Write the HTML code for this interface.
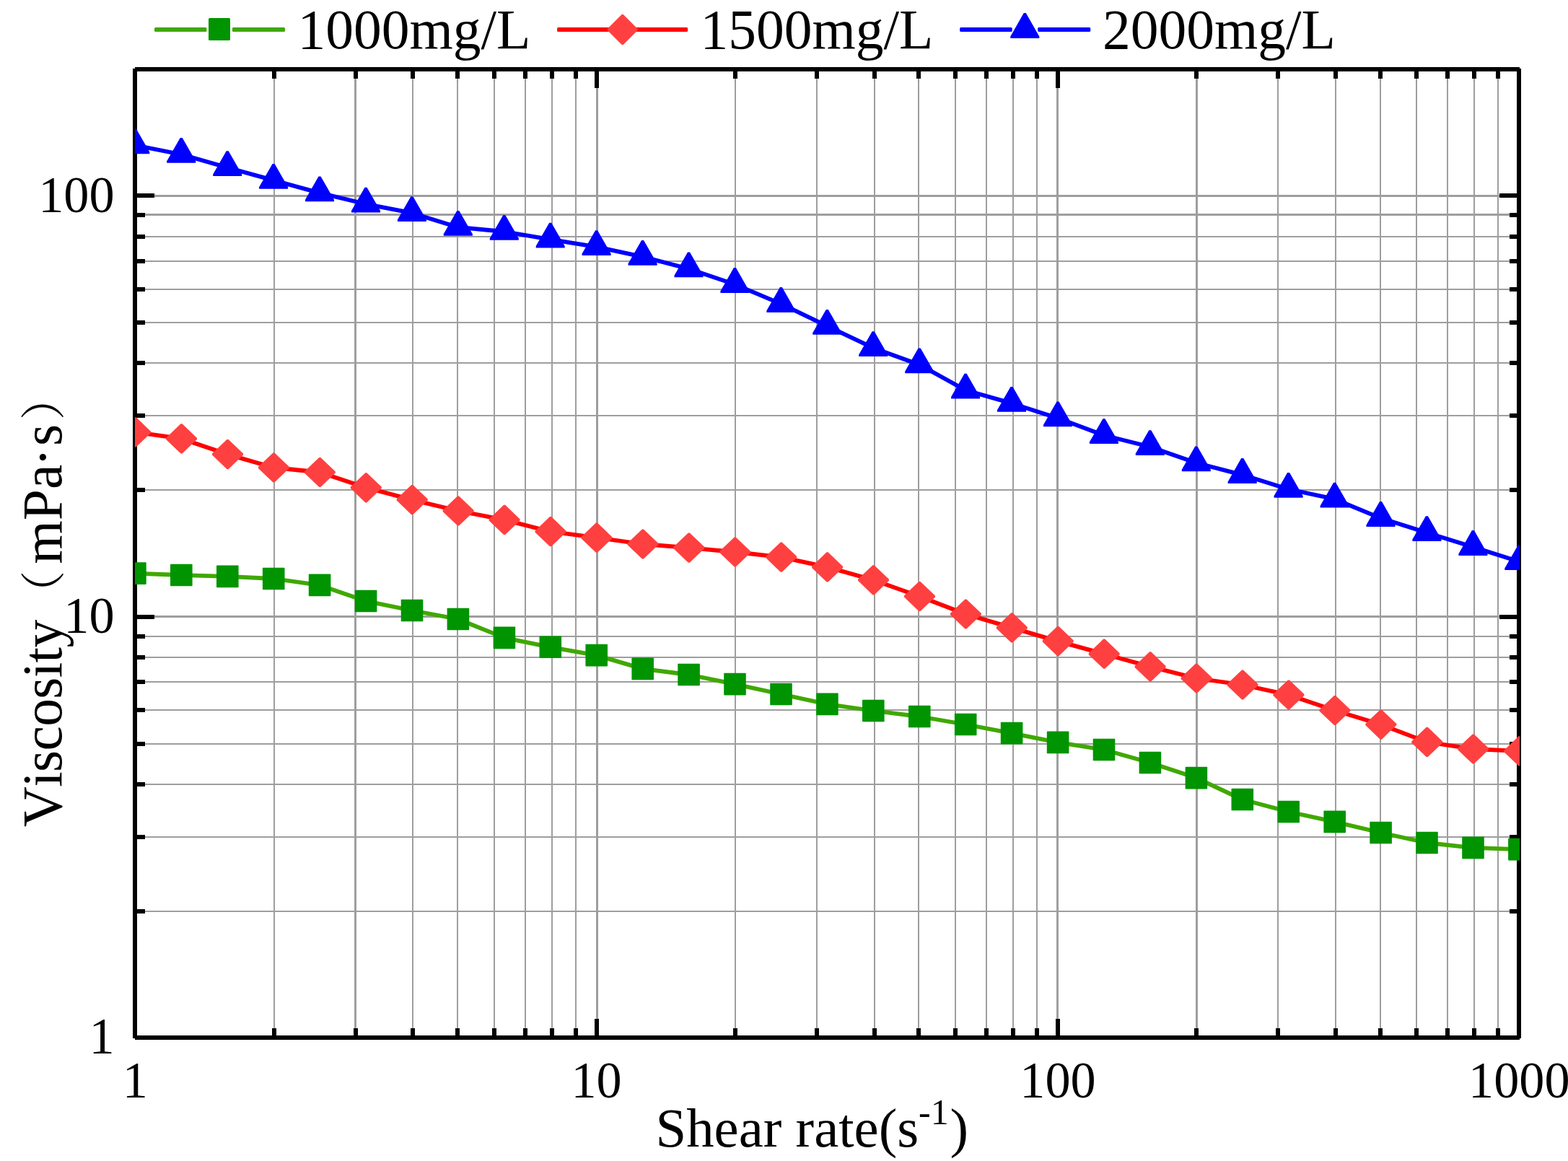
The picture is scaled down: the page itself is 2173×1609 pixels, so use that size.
<!DOCTYPE html>
<html lang="en"><head><meta charset="utf-8"><title>Viscosity vs Shear rate</title>
<style>html,body{margin:0;padding:0;background:#fff;}body{width:2173px;height:1609px;overflow:hidden;}svg{display:block;}text{font-family:"Liberation Serif","Noto Serif CJK SC",serif;fill:#000;font-kerning:none;}</style>
</head><body>
<svg width="2173" height="1609" viewBox="0 0 2173 1609" role="img" aria-label="Viscosity versus shear rate for 1000, 1500 and 2000 mg/L">
<rect x="0" y="0" width="2173" height="1609" fill="#ffffff"/>
<defs><clipPath id="plotclip"><rect x="187" y="96" width="1919" height="1342"/></clipPath></defs>
<g shape-rendering="crispEdges" fill="#9e9e9e">
<rect x="379" y="96" width="2" height="1342"/>
<rect x="491" y="96" width="3" height="1342"/>
<rect x="571" y="96" width="2" height="1342"/>
<rect x="633" y="96" width="2" height="1342"/>
<rect x="684" y="96" width="2" height="1342"/>
<rect x="727" y="96" width="2" height="1342"/>
<rect x="764" y="96" width="2" height="1342"/>
<rect x="797" y="96" width="2" height="1342"/>
<rect x="826" y="96" width="3" height="1342"/>
<rect x="1018" y="96" width="2" height="1342"/>
<rect x="1131" y="96" width="2" height="1342"/>
<rect x="1211" y="96" width="2" height="1342"/>
<rect x="1272" y="96" width="2" height="1342"/>
<rect x="1323" y="96" width="2" height="1342"/>
<rect x="1366" y="96" width="2" height="1342"/>
<rect x="1403" y="96" width="2" height="1342"/>
<rect x="1436" y="96" width="2" height="1342"/>
<rect x="1464" y="96" width="3" height="1342"/>
<rect x="1657" y="96" width="3" height="1342"/>
<rect x="1770" y="96" width="2" height="1342"/>
<rect x="1850" y="96" width="2" height="1342"/>
<rect x="1912" y="96" width="2" height="1342"/>
<rect x="1962" y="96" width="2" height="1342"/>
<rect x="2005" y="96" width="2" height="1342"/>
<rect x="2042" y="96" width="2" height="1342"/>
<rect x="2075" y="96" width="2" height="1342"/>
<rect x="187" y="1262" width="1918" height="2"/>
<rect x="187" y="1159" width="1918" height="2"/>
<rect x="187" y="1086" width="1918" height="2"/>
<rect x="187" y="1030" width="1918" height="2"/>
<rect x="187" y="983" width="1918" height="2"/>
<rect x="187" y="944" width="1918" height="2"/>
<rect x="187" y="910" width="1918" height="2"/>
<rect x="187" y="881" width="1918" height="2"/>
<rect x="187" y="853" width="1918" height="3"/>
<rect x="187" y="678" width="1918" height="2"/>
<rect x="187" y="575" width="1918" height="2"/>
<rect x="187" y="502" width="1918" height="2"/>
<rect x="187" y="446" width="1918" height="2"/>
<rect x="187" y="400" width="1918" height="2"/>
<rect x="187" y="361" width="1918" height="2"/>
<rect x="187" y="327" width="1918" height="2"/>
<rect x="187" y="296" width="1918" height="3"/>
<rect x="187" y="270" width="1918" height="3"/>
</g>
<g shape-rendering="crispEdges" fill="#000">
<rect x="184" y="95" width="6" height="1344"/>
<rect x="2102" y="95" width="6" height="1344"/>
<rect x="187" y="93" width="1919" height="6"/>
<rect x="187" y="1435" width="1919" height="6"/>
<rect x="377" y="93" width="6" height="16"/>
<rect x="377" y="1425" width="6" height="16"/>
<rect x="490" y="93" width="6" height="16"/>
<rect x="490" y="1425" width="6" height="16"/>
<rect x="569" y="93" width="6" height="16"/>
<rect x="569" y="1425" width="6" height="16"/>
<rect x="631" y="93" width="6" height="16"/>
<rect x="631" y="1425" width="6" height="16"/>
<rect x="682" y="93" width="6" height="16"/>
<rect x="682" y="1425" width="6" height="16"/>
<rect x="725" y="93" width="6" height="16"/>
<rect x="725" y="1425" width="6" height="16"/>
<rect x="762" y="93" width="6" height="16"/>
<rect x="762" y="1425" width="6" height="16"/>
<rect x="795" y="93" width="6" height="16"/>
<rect x="795" y="1425" width="6" height="16"/>
<rect x="824" y="93" width="6" height="29"/>
<rect x="824" y="1412" width="6" height="29"/>
<rect x="1016" y="93" width="6" height="16"/>
<rect x="1016" y="1425" width="6" height="16"/>
<rect x="1129" y="93" width="6" height="16"/>
<rect x="1129" y="1425" width="6" height="16"/>
<rect x="1209" y="93" width="6" height="16"/>
<rect x="1209" y="1425" width="6" height="16"/>
<rect x="1270" y="93" width="6" height="16"/>
<rect x="1270" y="1425" width="6" height="16"/>
<rect x="1321" y="93" width="6" height="16"/>
<rect x="1321" y="1425" width="6" height="16"/>
<rect x="1364" y="93" width="6" height="16"/>
<rect x="1364" y="1425" width="6" height="16"/>
<rect x="1401" y="93" width="6" height="16"/>
<rect x="1401" y="1425" width="6" height="16"/>
<rect x="1434" y="93" width="6" height="16"/>
<rect x="1434" y="1425" width="6" height="16"/>
<rect x="1463" y="93" width="6" height="29"/>
<rect x="1463" y="1412" width="6" height="29"/>
<rect x="1655" y="93" width="6" height="16"/>
<rect x="1655" y="1425" width="6" height="16"/>
<rect x="1768" y="93" width="6" height="16"/>
<rect x="1768" y="1425" width="6" height="16"/>
<rect x="1848" y="93" width="6" height="16"/>
<rect x="1848" y="1425" width="6" height="16"/>
<rect x="1910" y="93" width="6" height="16"/>
<rect x="1910" y="1425" width="6" height="16"/>
<rect x="1960" y="93" width="6" height="16"/>
<rect x="1960" y="1425" width="6" height="16"/>
<rect x="2003" y="93" width="6" height="16"/>
<rect x="2003" y="1425" width="6" height="16"/>
<rect x="2040" y="93" width="6" height="16"/>
<rect x="2040" y="1425" width="6" height="16"/>
<rect x="2073" y="93" width="6" height="16"/>
<rect x="2073" y="1425" width="6" height="16"/>
<rect x="184" y="1260" width="17" height="6"/>
<rect x="2092" y="1260" width="16" height="6"/>
<rect x="184" y="1157" width="17" height="6"/>
<rect x="2092" y="1157" width="16" height="6"/>
<rect x="184" y="1084" width="17" height="6"/>
<rect x="2092" y="1084" width="16" height="6"/>
<rect x="184" y="1028" width="17" height="6"/>
<rect x="2092" y="1028" width="16" height="6"/>
<rect x="184" y="981" width="17" height="6"/>
<rect x="2092" y="981" width="16" height="6"/>
<rect x="184" y="942" width="17" height="6"/>
<rect x="2092" y="942" width="16" height="6"/>
<rect x="184" y="908" width="17" height="6"/>
<rect x="2092" y="908" width="16" height="6"/>
<rect x="184" y="879" width="17" height="6"/>
<rect x="2092" y="879" width="16" height="6"/>
<rect x="184" y="852" width="30" height="6"/>
<rect x="2078" y="852" width="30" height="6"/>
<rect x="184" y="676" width="17" height="6"/>
<rect x="2092" y="676" width="16" height="6"/>
<rect x="184" y="573" width="17" height="6"/>
<rect x="2092" y="573" width="16" height="6"/>
<rect x="184" y="500" width="17" height="6"/>
<rect x="2092" y="500" width="16" height="6"/>
<rect x="184" y="444" width="17" height="6"/>
<rect x="2092" y="444" width="16" height="6"/>
<rect x="184" y="398" width="17" height="6"/>
<rect x="2092" y="398" width="16" height="6"/>
<rect x="184" y="359" width="17" height="6"/>
<rect x="2092" y="359" width="16" height="6"/>
<rect x="184" y="325" width="17" height="6"/>
<rect x="2092" y="325" width="16" height="6"/>
<rect x="184" y="295" width="17" height="6"/>
<rect x="2092" y="295" width="16" height="6"/>
<rect x="184" y="268" width="30" height="6"/>
<rect x="2078" y="268" width="30" height="6"/>
</g>
<g clip-path="url(#plotclip)">
<path d="M187.3 794.6 L251.2 797.0 L315.2 798.9 L379.1 802.0 L443.0 810.9 L507.0 833.0 L570.9 846.0 L634.8 858.0 L698.8 883.9 L762.7 896.8 L826.6 908.1 L890.6 926.9 L954.5 935.0 L1018.4 948.1 L1082.4 962.0 L1146.3 975.9 L1210.2 985.0 L1274.2 993.0 L1338.1 1004.0 L1402.0 1016.1 L1466.0 1028.9 L1529.9 1039.0 L1593.8 1057.0 L1657.8 1078.1 L1721.7 1108.0 L1785.6 1125.0 L1849.6 1138.9 L1913.5 1154.0 L1977.4 1168.0 L2041.4 1174.9 L2105.3 1177.1" fill="none" stroke="#40a800" stroke-width="5.8" stroke-linejoin="round"/>
<g fill="#009400">
<rect x="172.1" y="779.3" width="30.6" height="30.6" rx="0.8"/>
<rect x="236.0" y="781.7" width="30.6" height="30.6" rx="0.8"/>
<rect x="300.0" y="783.6" width="30.6" height="30.6" rx="0.8"/>
<rect x="363.9" y="786.7" width="30.6" height="30.6" rx="0.8"/>
<rect x="427.8" y="795.6" width="30.6" height="30.6" rx="0.8"/>
<rect x="491.8" y="817.7" width="30.6" height="30.6" rx="0.8"/>
<rect x="555.7" y="830.7" width="30.6" height="30.6" rx="0.8"/>
<rect x="619.6" y="842.7" width="30.6" height="30.6" rx="0.8"/>
<rect x="683.6" y="868.6" width="30.6" height="30.6" rx="0.8"/>
<rect x="747.5" y="881.5" width="30.6" height="30.6" rx="0.8"/>
<rect x="811.4" y="892.8" width="30.6" height="30.6" rx="0.8"/>
<rect x="875.4" y="911.6" width="30.6" height="30.6" rx="0.8"/>
<rect x="939.3" y="919.7" width="30.6" height="30.6" rx="0.8"/>
<rect x="1003.2" y="932.8" width="30.6" height="30.6" rx="0.8"/>
<rect x="1067.2" y="946.7" width="30.6" height="30.6" rx="0.8"/>
<rect x="1131.1" y="960.6" width="30.6" height="30.6" rx="0.8"/>
<rect x="1195.0" y="969.7" width="30.6" height="30.6" rx="0.8"/>
<rect x="1259.0" y="977.7" width="30.6" height="30.6" rx="0.8"/>
<rect x="1322.9" y="988.7" width="30.6" height="30.6" rx="0.8"/>
<rect x="1386.8" y="1000.8" width="30.6" height="30.6" rx="0.8"/>
<rect x="1450.8" y="1013.6" width="30.6" height="30.6" rx="0.8"/>
<rect x="1514.7" y="1023.7" width="30.6" height="30.6" rx="0.8"/>
<rect x="1578.6" y="1041.7" width="30.6" height="30.6" rx="0.8"/>
<rect x="1642.6" y="1062.8" width="30.6" height="30.6" rx="0.8"/>
<rect x="1706.5" y="1092.7" width="30.6" height="30.6" rx="0.8"/>
<rect x="1770.4" y="1109.7" width="30.6" height="30.6" rx="0.8"/>
<rect x="1834.4" y="1123.6" width="30.6" height="30.6" rx="0.8"/>
<rect x="1898.3" y="1138.7" width="30.6" height="30.6" rx="0.8"/>
<rect x="1962.2" y="1152.7" width="30.6" height="30.6" rx="0.8"/>
<rect x="2026.2" y="1159.6" width="30.6" height="30.6" rx="0.8"/>
<rect x="2090.1" y="1161.8" width="30.6" height="30.6" rx="0.8"/>
</g>
<path d="M187.3 598.9 L251.2 607.9 L315.2 629.6 L379.1 648.0 L443.0 654.5 L507.0 675.8 L570.9 692.6 L634.8 708.0 L698.8 720.4 L762.7 736.7 L826.6 745.2 L890.6 754.0 L954.5 759.1 L1018.4 765.0 L1082.4 772.1 L1146.3 785.9 L1210.2 803.8 L1274.2 826.5 L1338.1 851.0 L1402.0 869.9 L1466.0 888.6 L1529.9 906.2 L1593.8 923.9 L1657.8 940.0 L1721.7 949.0 L1785.6 963.0 L1849.6 984.5 L1913.5 1004.1 L1977.4 1028.4 L2041.4 1038.0 L2105.3 1040.9" fill="none" stroke="#ff0000" stroke-width="5.8" stroke-linejoin="round"/>
<g fill="#ff4040">
<path d="M186.6 578.3 h2 l20.5 19.6 v2 l-20.5 19.6 h-2 l-20.5 -19.6 v-2 z"/>
<path d="M250.5 587.3 h2 l20.5 19.6 v2 l-20.5 19.6 h-2 l-20.5 -19.6 v-2 z"/>
<path d="M314.5 609.0 h2 l20.5 19.6 v2 l-20.5 19.6 h-2 l-20.5 -19.6 v-2 z"/>
<path d="M378.4 627.4 h2 l20.5 19.6 v2 l-20.5 19.6 h-2 l-20.5 -19.6 v-2 z"/>
<path d="M442.3 633.9 h2 l20.5 19.6 v2 l-20.5 19.6 h-2 l-20.5 -19.6 v-2 z"/>
<path d="M506.3 655.2 h2 l20.5 19.6 v2 l-20.5 19.6 h-2 l-20.5 -19.6 v-2 z"/>
<path d="M570.2 672.0 h2 l20.5 19.6 v2 l-20.5 19.6 h-2 l-20.5 -19.6 v-2 z"/>
<path d="M634.1 687.4 h2 l20.5 19.6 v2 l-20.5 19.6 h-2 l-20.5 -19.6 v-2 z"/>
<path d="M698.1 699.8 h2 l20.5 19.6 v2 l-20.5 19.6 h-2 l-20.5 -19.6 v-2 z"/>
<path d="M762.0 716.1 h2 l20.5 19.6 v2 l-20.5 19.6 h-2 l-20.5 -19.6 v-2 z"/>
<path d="M825.9 724.6 h2 l20.5 19.6 v2 l-20.5 19.6 h-2 l-20.5 -19.6 v-2 z"/>
<path d="M889.9 733.4 h2 l20.5 19.6 v2 l-20.5 19.6 h-2 l-20.5 -19.6 v-2 z"/>
<path d="M953.8 738.5 h2 l20.5 19.6 v2 l-20.5 19.6 h-2 l-20.5 -19.6 v-2 z"/>
<path d="M1017.7 744.4 h2 l20.5 19.6 v2 l-20.5 19.6 h-2 l-20.5 -19.6 v-2 z"/>
<path d="M1081.7 751.5 h2 l20.5 19.6 v2 l-20.5 19.6 h-2 l-20.5 -19.6 v-2 z"/>
<path d="M1145.6 765.3 h2 l20.5 19.6 v2 l-20.5 19.6 h-2 l-20.5 -19.6 v-2 z"/>
<path d="M1209.5 783.2 h2 l20.5 19.6 v2 l-20.5 19.6 h-2 l-20.5 -19.6 v-2 z"/>
<path d="M1273.5 805.9 h2 l20.5 19.6 v2 l-20.5 19.6 h-2 l-20.5 -19.6 v-2 z"/>
<path d="M1337.4 830.4 h2 l20.5 19.6 v2 l-20.5 19.6 h-2 l-20.5 -19.6 v-2 z"/>
<path d="M1401.3 849.3 h2 l20.5 19.6 v2 l-20.5 19.6 h-2 l-20.5 -19.6 v-2 z"/>
<path d="M1465.3 868.0 h2 l20.5 19.6 v2 l-20.5 19.6 h-2 l-20.5 -19.6 v-2 z"/>
<path d="M1529.2 885.6 h2 l20.5 19.6 v2 l-20.5 19.6 h-2 l-20.5 -19.6 v-2 z"/>
<path d="M1593.1 903.3 h2 l20.5 19.6 v2 l-20.5 19.6 h-2 l-20.5 -19.6 v-2 z"/>
<path d="M1657.1 919.4 h2 l20.5 19.6 v2 l-20.5 19.6 h-2 l-20.5 -19.6 v-2 z"/>
<path d="M1721.0 928.4 h2 l20.5 19.6 v2 l-20.5 19.6 h-2 l-20.5 -19.6 v-2 z"/>
<path d="M1784.9 942.4 h2 l20.5 19.6 v2 l-20.5 19.6 h-2 l-20.5 -19.6 v-2 z"/>
<path d="M1848.9 963.9 h2 l20.5 19.6 v2 l-20.5 19.6 h-2 l-20.5 -19.6 v-2 z"/>
<path d="M1912.8 983.5 h2 l20.5 19.6 v2 l-20.5 19.6 h-2 l-20.5 -19.6 v-2 z"/>
<path d="M1976.7 1007.8 h2 l20.5 19.6 v2 l-20.5 19.6 h-2 l-20.5 -19.6 v-2 z"/>
<path d="M2040.7 1017.4 h2 l20.5 19.6 v2 l-20.5 19.6 h-2 l-20.5 -19.6 v-2 z"/>
<path d="M2104.6 1020.3 h2 l20.5 19.6 v2 l-20.5 19.6 h-2 l-20.5 -19.6 v-2 z"/>
</g>
<path d="M187.3 201.4 L251.2 214.0 L315.2 232.3 L379.1 249.9 L443.0 267.4 L507.0 282.8 L570.9 295.2 L634.8 314.9 L698.8 321.0 L762.7 331.8 L826.6 342.2 L890.6 355.9 L954.5 372.5 L1018.4 394.1 L1082.4 421.1 L1146.3 451.9 L1210.2 482.2 L1274.2 505.4 L1338.1 540.7 L1402.0 558.9 L1466.0 579.4 L1529.9 603.3 L1593.8 619.2 L1657.8 641.5 L1721.7 658.1 L1785.6 678.0 L1849.6 691.7 L1913.5 718.1 L1977.4 738.2 L2041.4 758.1 L2105.3 778.3" fill="none" stroke="#0000ff" stroke-width="5.8" stroke-linejoin="round"/>
<g fill="#0000ff">
<path d="M185.8 178.4 h3 l18.5 32.3 v2.5 h-40 v-2.5 z"/>
<path d="M249.7 191.0 h3 l18.5 32.3 v2.5 h-40 v-2.5 z"/>
<path d="M313.7 209.3 h3 l18.5 32.3 v2.5 h-40 v-2.5 z"/>
<path d="M377.6 226.9 h3 l18.5 32.3 v2.5 h-40 v-2.5 z"/>
<path d="M441.5 244.4 h3 l18.5 32.3 v2.5 h-40 v-2.5 z"/>
<path d="M505.5 259.8 h3 l18.5 32.3 v2.5 h-40 v-2.5 z"/>
<path d="M569.4 272.2 h3 l18.5 32.3 v2.5 h-40 v-2.5 z"/>
<path d="M633.3 291.9 h3 l18.5 32.3 v2.5 h-40 v-2.5 z"/>
<path d="M697.3 298.0 h3 l18.5 32.3 v2.5 h-40 v-2.5 z"/>
<path d="M761.2 308.8 h3 l18.5 32.3 v2.5 h-40 v-2.5 z"/>
<path d="M825.1 319.2 h3 l18.5 32.3 v2.5 h-40 v-2.5 z"/>
<path d="M889.1 332.9 h3 l18.5 32.3 v2.5 h-40 v-2.5 z"/>
<path d="M953.0 349.5 h3 l18.5 32.3 v2.5 h-40 v-2.5 z"/>
<path d="M1016.9 371.1 h3 l18.5 32.3 v2.5 h-40 v-2.5 z"/>
<path d="M1080.9 398.1 h3 l18.5 32.3 v2.5 h-40 v-2.5 z"/>
<path d="M1144.8 428.9 h3 l18.5 32.3 v2.5 h-40 v-2.5 z"/>
<path d="M1208.7 459.2 h3 l18.5 32.3 v2.5 h-40 v-2.5 z"/>
<path d="M1272.7 482.4 h3 l18.5 32.3 v2.5 h-40 v-2.5 z"/>
<path d="M1336.6 517.7 h3 l18.5 32.3 v2.5 h-40 v-2.5 z"/>
<path d="M1400.5 535.9 h3 l18.5 32.3 v2.5 h-40 v-2.5 z"/>
<path d="M1464.5 556.4 h3 l18.5 32.3 v2.5 h-40 v-2.5 z"/>
<path d="M1528.4 580.3 h3 l18.5 32.3 v2.5 h-40 v-2.5 z"/>
<path d="M1592.3 596.2 h3 l18.5 32.3 v2.5 h-40 v-2.5 z"/>
<path d="M1656.3 618.5 h3 l18.5 32.3 v2.5 h-40 v-2.5 z"/>
<path d="M1720.2 635.1 h3 l18.5 32.3 v2.5 h-40 v-2.5 z"/>
<path d="M1784.1 655.0 h3 l18.5 32.3 v2.5 h-40 v-2.5 z"/>
<path d="M1848.1 668.7 h3 l18.5 32.3 v2.5 h-40 v-2.5 z"/>
<path d="M1912.0 695.1 h3 l18.5 32.3 v2.5 h-40 v-2.5 z"/>
<path d="M1975.9 715.2 h3 l18.5 32.3 v2.5 h-40 v-2.5 z"/>
<path d="M2039.9 735.1 h3 l18.5 32.3 v2.5 h-40 v-2.5 z"/>
<path d="M2103.8 755.3 h3 l18.5 32.3 v2.5 h-40 v-2.5 z"/>
</g>
</g>
<g fill="#40a800">
<rect x="214.0" y="38" width="72.4" height="6" rx="1.5"/>
<rect x="321.9" y="38" width="73.1" height="6" rx="1.5"/>
</g>
<rect x="289" y="25" width="30" height="31" rx="1.5" fill="#009400"/>
<g fill="#ff0000">
<rect x="772.1" y="38" width="73.0" height="6" rx="1.5"/>
<rect x="880.6" y="38" width="72.5" height="6" rx="1.5"/>
</g>
<path d="M861.7 20 h2 l20 20 v2 l-20 20 h-2 l-20 -20 v-2 z" fill="#ff4040"/>
<g fill="#0000ff">
<rect x="1330.2" y="38" width="72.5" height="6" rx="1.5"/>
<rect x="1438.2" y="38" width="73.0" height="6" rx="1.5"/>
</g>
<path d="M1418.8 18 h3 l18.5 32.5 v2.5 h-40 v-2.5 z" fill="#0000ff"/>
<g font-size="77.5px">
<text x="412.5" y="67">1000mg/L</text>
<text x="970.5" y="67">1500mg/L</text>
<text x="1528" y="67">2000mg/L</text>
</g>
<g font-size="72.0px">
<text transform="translate(158.6 293.5) scale(0.976 1)" text-anchor="end">100</text>
<text transform="translate(158.6 877.2) scale(0.976 1)" text-anchor="end">10</text>
<text transform="translate(158.6 1460.0) scale(0.976 1)" text-anchor="end">1</text>
<text transform="translate(187.3 1521.2) scale(0.976 1)" text-anchor="middle">1</text>
<text transform="translate(826.6 1521.2) scale(0.976 1)" text-anchor="middle">10</text>
<text transform="translate(1466.0 1521.2) scale(0.976 1)" text-anchor="middle">100</text>
<text transform="translate(2105.3 1521.2) scale(0.976 1)" text-anchor="middle">1000</text>
</g>
<text x="908.5" y="1589" font-size="76.8px">Shear rate(s<tspan font-size="50px" dy="-31.5">-1</tspan><tspan dy="31.5" dx="1.8">)</tspan></text>
<text transform="translate(85 1146) rotate(-90)" font-size="77.5px"><tspan letter-spacing="-0.7">Viscosity</tspan><tspan x="292.6" y="-3" font-size="62.7px" letter-spacing="0">（</tspan><tspan x="364.5" y="0">mPa</tspan><tspan dx="-2.8">·</tspan><tspan dx="2.8">s</tspan><tspan x="563.8" y="-3" font-size="62.7px">）</tspan></text>
</svg>
</body></html>
